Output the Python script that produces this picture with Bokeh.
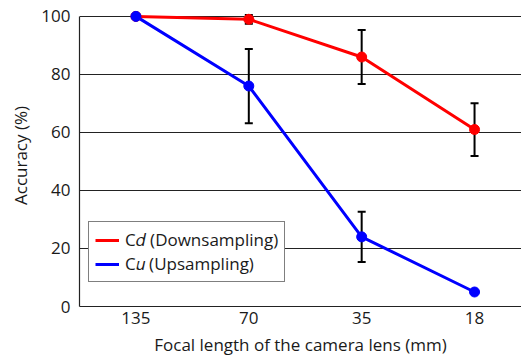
from bokeh.plotting import figure
from bokeh.models import (ColumnDataSource, Whisker, TeeHead, Legend, LegendItem,
                          Range1d, FixedTicker)
from bokeh.embed import file_html
from bokeh.resources import INLINE

focal_labels = ["135", "70", "35", "18"]
cd_values = [100, 99, 86, 61]
cd_err = [0, 1.5, 9.3, 9.1]
cu_values = [100, 76, 24, 5]
cu_err = [0, 12.8, 8.7, 0]
y_ticks = [0, 20, 40, 60, 80, 100]

FONT = "Open Sans"
FS = "17px"
xs = list(range(len(focal_labels)))

p = figure(width=521, height=358, output_backend="svg", toolbar_location=None,
           x_range=Range1d(-0.5, 3.416), y_range=Range1d(0, 104.1),
           min_border_left=79, min_border_right=0, min_border_top=4, min_border_bottom=51)
p.outline_line_color = None
p.background_fill_color = "white"

# grid
p.xgrid.grid_line_color = None
p.ygrid.grid_line_color = "#222222"
p.ygrid.grid_line_width = 1
p.yaxis.ticker = FixedTicker(ticks=y_ticks)
p.xaxis.ticker = FixedTicker(ticks=xs)
p.xaxis.major_label_overrides = {i: l for i, l in enumerate(focal_labels)}

for ax in (p.xaxis[0], p.yaxis[0]):
    ax.major_tick_line_color = None
    ax.minor_tick_line_color = None
    ax.major_tick_out = 0
    ax.major_tick_in = 0
    ax.axis_line_color = "#222222"
    ax.axis_line_width = 1.2
    ax.major_label_text_font = FONT
    ax.major_label_text_font_size = FS
    ax.major_label_text_color = "#1a1a1a"
    ax.axis_label_text_font = FONT
    ax.axis_label_text_font_size = FS
    ax.axis_label_text_font_style = "normal"
    ax.axis_label_text_color = "#1a1a1a"

p.yaxis.bounds = (0, 100)
p.yaxis.major_label_standoff = 9
p.yaxis.axis_label = "Accuracy (%)"
p.yaxis.axis_label_standoff = 6
p.xaxis.major_label_standoff = 5
p.xaxis.axis_label = "Focal length of the camera lens (mm)"
p.xaxis.axis_label_standoff = 6

src_d = ColumnDataSource(dict(x=xs, y=cd_values,
                              lo=[v - e for v, e in zip(cd_values, cd_err)],
                              hi=[v + e for v, e in zip(cd_values, cd_err)]))
src_u = ColumnDataSource(dict(x=xs, y=cu_values,
                              lo=[v - e for v, e in zip(cu_values, cu_err)],
                              hi=[v + e for v, e in zip(cu_values, cu_err)]))

ld = p.line("x", "y", source=src_d, line_color="#ff0000", line_width=3)
lu = p.line("x", "y", source=src_u, line_color="#0000ff", line_width=3)

for src in (src_d, src_u):
    w = Whisker(source=src, base="x", lower="lo", upper="hi", line_color="black", line_width=2,
                upper_head=TeeHead(size=8, line_color="black", line_width=2),
                lower_head=TeeHead(size=8, line_color="black", line_width=2))
    p.add_layout(w)

p.scatter("x", "y", source=src_d, size=10, fill_color="#ff0000", line_color="#ff0000")
p.scatter("x", "y", source=src_u, size=10, fill_color="#0000ff", line_color="#0000ff")

legend = Legend(items=[LegendItem(label="C\U0001D451 (Downsampling)", renderers=[ld]),
                       LegendItem(label="C\U0001D462 (Upsampling)", renderers=[lu])],
                location=(9, 24), padding=6, spacing=1, label_height=18, glyph_height=18,
                glyph_width=24, label_standoff=6, margin=0,
                border_line_color="black", border_line_width=1,
                background_fill_color="white", background_fill_alpha=1,
                label_text_font=FONT, label_text_font_size=FS, label_text_color="#1a1a1a")
p.add_layout(legend)

open("out.html", "w").write(file_html(p, INLINE))
